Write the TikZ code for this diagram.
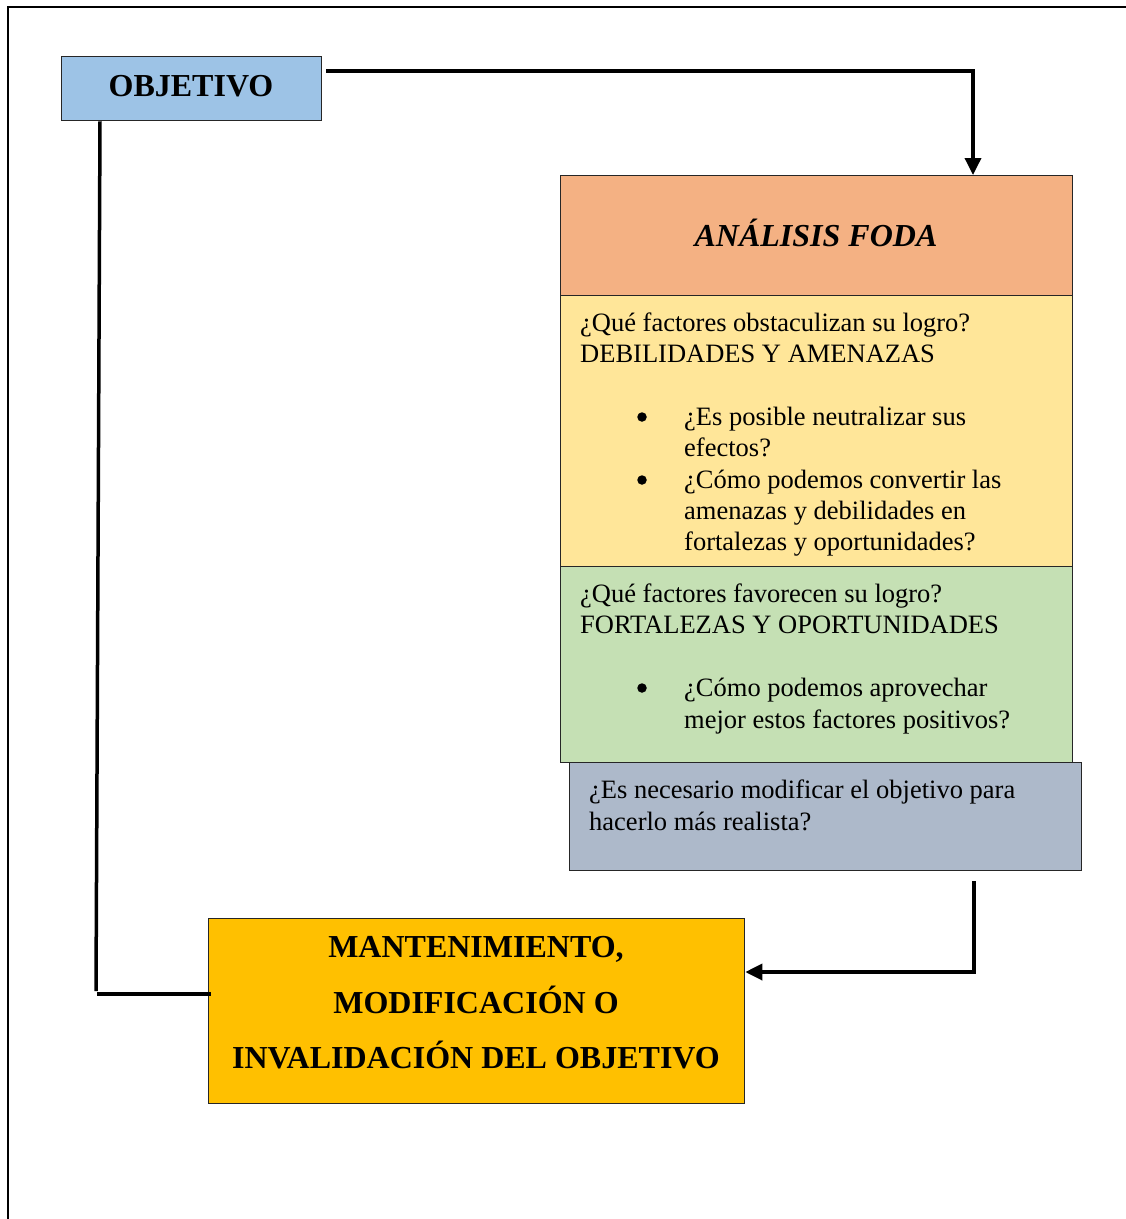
\documentclass[tikz,border=0pt]{standalone}
\usepackage{fontspec}
\setmainfont{Liberation Serif}
\usetikzlibrary{arrows.meta}
\definecolor{cobj}{HTML}{9DC3E6}
\definecolor{cfoda}{HTML}{F4B183}
\definecolor{cyel}{HTML}{FFE699}
\definecolor{cgreen}{HTML}{C5E0B4}
\definecolor{cgray}{HTML}{ADB9CA}
\definecolor{corange}{HTML}{FFC000}
\begin{document}
\begin{tikzpicture}[x=1pt,y=-1pt,
  box/.style={draw=black!85, line width=1.3pt, inner sep=0pt, anchor=north west},
  conn/.style={line width=3.5pt},
  tip/.style={-{Triangle[length=17pt,width=16pt]}},
  txt/.style={inner sep=0pt, anchor=base west, font=\fontsize{26.5}{31}\selectfont},
  bul/.style={circle, fill=black, inner sep=0pt, minimum size=9.5pt},
  btxt/.style={inner sep=0pt, anchor=base, font=\bfseries\fontsize{32}{38}\selectfont},
  bitxt/.style={inner sep=0pt, anchor=base, font=\bfseries\itshape\fontsize{32}{38}\selectfont}]
\useasboundingbox (0,0) rectangle (1126,1219);
\draw[line width=2pt] (8,1219) -- (8,7) -- (1126,7);

% boxes
\node[box, fill=cobj, minimum width=260pt, minimum height=64pt] (obj) at (61,56) {};
\node[box, fill=cfoda, minimum width=512pt, minimum height=120pt] (foda) at (560,175) {};
\node[box, fill=cyel, minimum width=512pt, minimum height=271pt] (deb) at (560,295) {};
\node[box, fill=cgreen, minimum width=512pt, minimum height=196pt] (fort) at (560,566) {};
\node[box, fill=cgray, minimum width=512pt, minimum height=108pt] (mod) at (569,762) {};
\node[box, fill=corange, minimum width=536pt, minimum height=185pt] (mant) at (208,918) {};

% texts
\node[btxt] (tobj) at (191,96) {OBJETIVO};
\node[bitxt] (tfoda) at (816,246) {ANÁLISIS FODA};

\node[txt] (d1) at (580,331) {¿Qué factores obstaculizan su logro?};
\node[txt] (d2) at (580,362) {DEBILIDADES Y AMENAZAS};
\node[bul] (db1) at (642,417) {};
\node[txt] (d3) at (684,425) {¿Es posible neutralizar sus};
\node[txt] (d4) at (684,456) {efectos?};
\node[bul] (db2) at (642,480) {};
\node[txt] (d5) at (684,488) {¿Cómo podemos convertir las};
\node[txt] (d6) at (684,519) {amenazas y debilidades en};
\node[txt] (d7) at (684,550) {fortalezas y oportunidades?};

\node[txt] (f1) at (580,602) {¿Qué factores favorecen su logro?};
\node[txt] (f2) at (580,633) {FORTALEZAS Y OPORTUNIDADES};
\node[bul] (fb1) at (642,688) {};
\node[txt] (f3) at (684,696) {¿Cómo podemos aprovechar};
\node[txt] (f4) at (684,728) {mejor estos factores positivos?};

\node[txt] (m1) at (589,798) {¿Es necesario modificar el objetivo para};
\node[txt] (m2) at (589,830) {hacerlo más realista?};

\node[btxt] (t1) at (476,957) {MANTENIMIENTO,};
\node[btxt] (t2) at (476,1013) {MODIFICACIÓN O};
\node[btxt] (t3) at (476,1068) {INVALIDACIÓN DEL OBJETIVO};

% connectors
\draw[conn, tip] ([xshift=4pt,yshift=-15pt]obj.north east) -| ([xshift=413pt]foda.north west);
\draw[conn, tip] ([xshift=405pt,yshift=-10pt]mod.south west) |- ([yshift=-54pt]mant.north east);
\draw[conn] ([xshift=39pt]obj.south west) -- ([xshift=-112pt,yshift=-73pt]mant.north west);
\draw[conn] ([xshift=-111pt,yshift=-76pt]mant.north west) -- ([xshift=3pt,yshift=-76pt]mant.north west);
\end{tikzpicture}
\end{document}
